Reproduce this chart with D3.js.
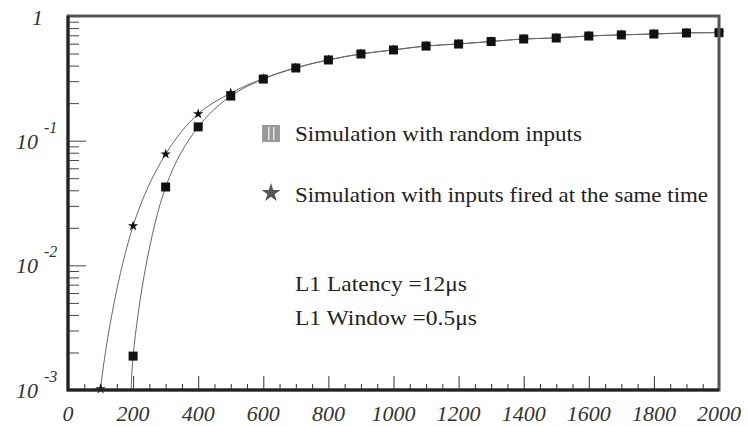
<!DOCTYPE html>
<html>
<head>
<meta charset="utf-8">
<script src="https://cdn.jsdelivr.net/npm/d3@7/dist/d3.min.js"></script>
<style>
  html, body { margin: 0; padding: 0; background: #fff; }
  svg { display: block; }
</style>
</head>
<body>
<svg id="chart" width="748" height="426"></svg>
<script>
// Trigger efficiency vs. input rate
const rates = [100, 200, 300, 400, 500, 600, 700, 800, 900, 1000, 1100, 1200,
               1300, 1400, 1500, 1600, 1700, 1800, 1900, 2000];

// Simulation with random inputs (squares); no entry at 100
const randomEff = [null, 0.00187, 0.0425, 0.129, 0.228, 0.312, 0.383, 0.444,
                   0.496, 0.534, 0.574, 0.596, 0.624, 0.654, 0.666, 0.691,
                   0.705, 0.717, 0.731, 0.735];

// Simulation with inputs fired at the same time (stars)
const sameTimeEff = [0.00102, 0.0207, 0.078, 0.164, 0.241, 0.315, 0.385, 0.445,
                     0.497, 0.535, 0.575, 0.597, 0.625, 0.655, 0.667, 0.692,
                     0.706, 0.718, 0.732, 0.736];

// Lower anchors of the fitted curves (below the visible range)
const randomFitStart = [199, 0.0001];
const sameTimeFitStart = [90, 0.0001];

const xTicks = [0, 200, 400, 600, 800, 1000, 1200, 1400, 1600, 1800, 2000];
const yDecades = [-3, -2, -1];
const legendLabels = ["Simulation with random inputs",
                      "Simulation with inputs fired at the same time"];
const noteLabels = ["L1 Latency =12\u03bcs", "L1 Window =0.5\u03bcs"];

const FONT = '"Liberation Serif", "Times New Roman", serif';

const svg = d3.select("#chart");
const L = 68, R = 719, T = 16, B = 390;

const x = d3.scaleLinear().domain([0, 2000]).range([L, R]);
const y = d3.scaleLog().domain([1e-3, 1]).range([B, T]);

svg.append("defs").append("clipPath").attr("id", "plotClip")
  .append("rect").attr("x", L).attr("y", T).attr("width", R - L).attr("height", B - T);

// Minor / major ticks along the x axis (inside, pointing up)
const xMinor = d3.range(0, 2001, 50).filter(v => v % 200 !== 0);
svg.append("g").attr("transform", `translate(0,${B})`)
  .call(d3.axisBottom(x).tickValues(xMinor).tickSize(-6).tickFormat(""))
  .call(g => g.select(".domain").remove())
  .call(g => g.selectAll("line").attr("stroke", "#333").attr("stroke-width", 1));
svg.append("g").attr("transform", `translate(0,${B})`)
  .call(d3.axisBottom(x).tickValues(xTicks).tickSize(-14).tickFormat(""))
  .call(g => g.select(".domain").remove())
  .call(g => g.selectAll("line").attr("stroke", "#333").attr("stroke-width", 1));

// Ticks along the y axis (inside, pointing right)
const yMinor = [];
[-3, -2, -1].forEach(e => { for (let m = 2; m <= 9; m++) yMinor.push(m * Math.pow(10, e)); });
svg.append("g").attr("transform", `translate(${L},0)`)
  .call(d3.axisRight(y).tickValues(yMinor).tickSize(11).tickFormat(""))
  .call(g => g.select(".domain").remove())
  .call(g => g.selectAll("line").attr("stroke", "#444").attr("stroke-width", 1));
svg.append("g").attr("transform", `translate(${L},0)`)
  .call(d3.axisRight(y).tickValues(yDecades.map(e => Math.pow(10, e))).tickSize(18).tickFormat(""))
  .call(g => g.select(".domain").remove())
  .call(g => g.selectAll("line").attr("stroke", "#444").attr("stroke-width", 1));

// Fitted curves
const line = d3.line()
  .x(d => x(d[0])).y(d => y(d[1]))
  .curve(d3.curveCatmullRom.alpha(0.5));

const randomPts = [randomFitStart].concat(
  rates.map((r, i) => [r, randomEff[i]]).filter(d => d[1] != null));
const samePts = [sameTimeFitStart].concat(rates.map((r, i) => [r, sameTimeEff[i]]));

const curves = svg.append("g").attr("clip-path", "url(#plotClip)");
curves.append("path").attr("d", line(samePts))
  .attr("fill", "none").attr("stroke", "#666").attr("stroke-width", 1);
curves.append("path").attr("d", line(randomPts))
  .attr("fill", "none").attr("stroke", "#666").attr("stroke-width", 1);

// Markers
const starSym = d3.symbol().type(d3.symbolStar).size(34);
const marks = svg.append("g");
marks.selectAll("path.star")
  .data(rates.map((r, i) => [r, sameTimeEff[i]]))
  .join("path").attr("class", "star")
  .attr("transform", d => `translate(${x(d[0])},${y(d[1])})`)
  .attr("d", starSym).attr("fill", "#111");

const sq = 9;
marks.selectAll("rect.sq")
  .data(rates.map((r, i) => [r, randomEff[i]]).filter(d => d[1] != null))
  .join("rect").attr("class", "sq")
  .attr("x", d => x(d[0]) - sq / 2).attr("y", d => y(d[1]) - sq / 2)
  .attr("width", sq).attr("height", sq).attr("fill", "#111");

// Frame: darker axes on left/bottom, grey on top/right
svg.append("path")
  .attr("d", `M${L},${B}H${R}V${T}H${L}Z`)
  .attr("fill", "none").attr("stroke", "#555").attr("stroke-width", 3);
svg.append("path")
  .attr("d", `M${L},${T}V${B}H${R}`)
  .attr("fill", "none").attr("stroke", "#222").attr("stroke-width", 3);

// X tick labels
svg.append("g").selectAll("text").data(xTicks).join("text")
  .attr("x", d => x(d)).attr("y", 421)
  .attr("text-anchor", "middle")
  .style("font-family", FONT).style("font-style", "italic")
  .attr("fill", "#333").attr("font-size", 22)
  .text(d => d);

// Y tick labels
const yl = svg.append("g");
yl.append("text").attr("x", 43).attr("y", y(1) + 9)
  .attr("text-anchor", "end").attr("font-size", 22)
  .style("font-family", FONT).style("font-style", "italic").attr("fill", "#333").text("1");
yDecades.forEach(e => {
  const yy = y(Math.pow(10, e));
  yl.append("text").attr("x", 38).attr("y", yy + 8)
    .attr("text-anchor", "end").attr("font-size", 22)
    .style("font-family", FONT).style("font-style", "italic").attr("fill", "#333").text("10");
  yl.append("text").attr("x", 44).attr("y", yy - 8)
    .attr("font-size", 16)
    .style("font-family", FONT).style("font-style", "italic").attr("fill", "#333").text(String(e));
});

// Legend
const lg = svg.append("g");
const sqIcon = lg.append("g").attr("transform", "translate(262,125)");
sqIcon.append("rect").attr("width", 18).attr("height", 17).attr("fill", "#9a9a9a");
[6, 11].forEach(px => sqIcon.append("rect").attr("x", px).attr("y", 2)
  .attr("width", 1.5).attr("height", 13).attr("fill", "#e4e4e4"));
lg.append("path").attr("transform", "translate(271,193)")
  .attr("d", d3.symbol().type(d3.symbolStar).size(110)).attr("fill", "#555");

const legendY = [141, 202];
const legendW = [287, 413];
legendLabels.forEach((t, i) => {
  lg.append("text").attr("x", 295).attr("y", legendY[i])
    .attr("font-size", 21).style("font-family", FONT).attr("fill", "#222")
    .attr("textLength", legendW[i]).attr("lengthAdjust", "spacingAndGlyphs")
    .text(t);
});

const noteY = [291, 325];
const noteW = [172, 182];
noteLabels.forEach((t, i) => {
  lg.append("text").attr("x", 295).attr("y", noteY[i])
    .attr("font-size", 21).style("font-family", FONT).attr("fill", "#222")
    .attr("textLength", noteW[i]).attr("lengthAdjust", "spacingAndGlyphs")
    .text(t);
});
</script>
</body>
</html>
